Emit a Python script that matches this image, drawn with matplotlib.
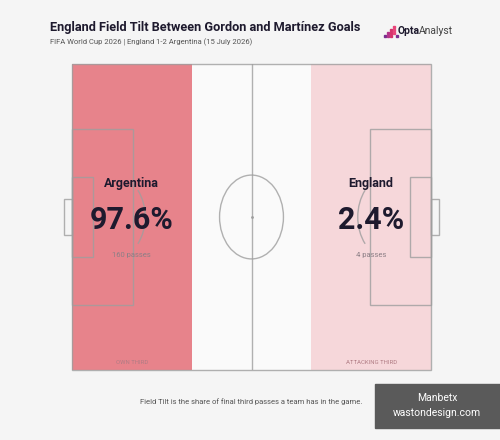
import matplotlib.pyplot as plt
from matplotlib.patches import Rectangle, Ellipse, Arc

# data
teams = ['Argentina', 'England']
tilt_pct = [97.6, 2.4]
passes = [160, 4]
third_labels = ['OWN THIRD', 'ATTACKING THIRD']
third_edges = [0, 100 / 3, 200 / 3, 100]
third_colors = ['#E7838B', '#F6D7DA']

plt.rcParams['font.family'] = ['Roboto', 'DejaVu Sans']

bg = '#F5F5F5'
line_col = '#9E9E9E'
fig = plt.figure(figsize=(5, 4.4), dpi=100, facecolor=bg)

# pitch axes (opta-style 0-100 coordinates)
ax = fig.add_axes([72 / 500, 1 - 370 / 440, 359 / 500, 306 / 440])
ax.set_xlim(0, 100)
ax.set_ylim(0, 100)
ax.axis('off')
ax.add_patch(Rectangle((0, 0), 100, 100, facecolor='#FAFAFA', edgecolor='none', zorder=0))

# shaded thirds
ax.axvspan(third_edges[0], third_edges[1], color=third_colors[0], zorder=1, lw=0)
ax.axvspan(third_edges[2], third_edges[3], color=third_colors[1], zorder=1, lw=0)

lw = 1.0
kw = dict(fill=False, edgecolor=line_col, lw=lw, zorder=2, alpha=0.8, clip_on=False)
ax.add_patch(Rectangle((0, 0), 100, 100, **kw))
ax.plot([50, 50], [0, 100], color=line_col, lw=lw, zorder=2, alpha=0.8)
ax.add_patch(Ellipse((50, 50), 2 * 8.9, 2 * 13.7, **kw))
ax.plot(50, 50, marker='o', ms=1, color=line_col, zorder=2)
# left end
ax.add_patch(Rectangle((0, 21.1), 17, 57.8, **kw))
ax.add_patch(Rectangle((0, 36.8), 5.8, 26.4, **kw))
ax.add_patch(Rectangle((-2.2, 44.2), 2.2, 11.6, **kw))
ax.add_patch(Arc((11.5, 50), 2 * 8.9, 2 * 13.7, theta1=-52, theta2=52, **kw))
# right end
ax.add_patch(Rectangle((83, 21.1), 17, 57.8, **kw))
ax.add_patch(Rectangle((94.2, 36.8), 5.8, 26.4, **kw))
ax.add_patch(Rectangle((100, 44.2), 2.2, 11.6, **kw))
ax.add_patch(Arc((88.5, 50), 2 * 8.9, 2 * 13.7, theta1=128, theta2=232, **kw))

# team labels
centres = [(third_edges[0] + third_edges[1]) / 2, (third_edges[2] + third_edges[3]) / 2]
for i, team in enumerate(teams):
    cx = centres[i]
    ax.text(cx, 60.8, team, ha='center', va='center', fontsize=9, fontweight='bold',
            color='#1E1A2E', zorder=5)
    ax.text(cx, 49, f'{tilt_pct[i]}%', ha='center', va='center', fontsize=22,
            fontweight='bold', color='#1E1A2E', zorder=5)
    ax.text(cx, 37.6, f'{passes[i]} passes', ha='center', va='center', fontsize=5.5,
            color='#8C7F86', zorder=5)
    ax.text(cx, 2.6, third_labels[i], ha='center', va='center', fontsize=4.3,
            color='#B07C84', zorder=5)

# title block
fig.text(50 / 500, 1 - 28 / 440, 'England Field Tilt Between Gordon and Martínez Goals',
         fontsize=9.2, fontweight='bold', color='#1E1A2E', va='center', ha='left')
fig.text(50 / 500, 1 - 42 / 440, 'FIFA World Cup 2026 | England 1-2 Argentina (15 July 2026)',
         fontsize=5.5, color='#555555', va='center', ha='left')

# logo (little dot bars)
dot_x = [385, 388, 391, 388, 391, 391, 394, 394, 394, 397]
dot_y = [36, 36, 36, 33, 33, 30, 30, 27, 33, 36]
dot_c = ['#7A2E8E', '#B3338A', '#D6336C', '#B3338A', '#D6336C', '#D6336C', '#E8457A',
         '#E8457A', '#E8457A', '#7A2E8E']
fig.add_artist(plt.Line2D([], [], ls='none'))
for dx, dy, dc in zip(dot_x, dot_y, dot_c):
    fig.add_artist(plt.Line2D([dx / 500], [1 - dy / 440], marker='s', ms=1.6, ls='none',
                              color=dc, transform=fig.transFigure))
fig.text(398 / 500, 1 - 31 / 440, 'Opta', fontsize=7.5, fontweight='bold', color='#1E1A2E',
         va='center', ha='left')
fig.text(419 / 500, 1 - 31 / 440, 'Analyst', fontsize=7.5, color='#444444', va='center', ha='left')

# footer
fig.text(251 / 500, 1 - 402 / 440,
         'Field Tilt is the share of final third passes a team has in the game.',
         fontsize=5.5, color='#555555', va='center', ha='center')

# watermark box
fig.patches.append(Rectangle((375 / 500, 1 - 428 / 440), 125 / 500, 44 / 440,
                             transform=fig.transFigure, color='#5A5A5A', figure=fig))
fig.text(437 / 500, 1 - 398 / 440, 'Manbetx', fontsize=7.5, color='white', ha='center', va='center')
fig.text(437 / 500, 1 - 413 / 440, 'wastondesign.com', fontsize=7.5, color='white',
         ha='center', va='center')

fig.savefig('out.png', dpi=100, facecolor=bg)
